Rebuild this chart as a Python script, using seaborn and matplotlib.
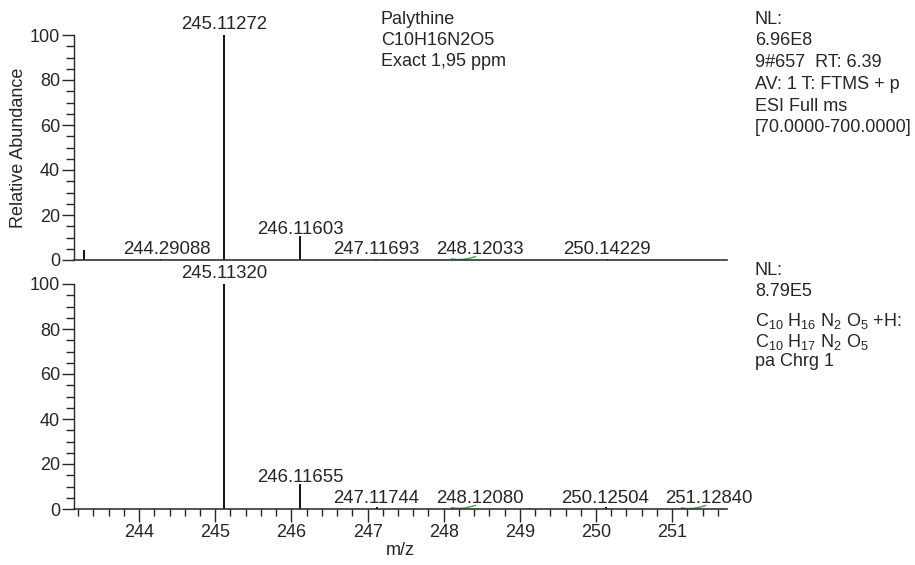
import numpy as np
import pandas as pd
import matplotlib
matplotlib.use("Agg")
import matplotlib.pyplot as plt
from matplotlib.ticker import MultipleLocator
import seaborn as sns

# Centroid peaks, measured spectrum (m/z, relative abundance)
top_mz = [243.28, 244.29088, 245.11272, 246.11603, 247.11693, 248.12033, 250.14229]
top_int = [4.5, 0.3, 100.0, 10.5, 0.6, 0.3, 0.3]
top_labels = ["", "244.29088", "245.11272", "246.11603", "247.11693", "248.12033", "250.14229"]

# Simulated isotope pattern for C10H17N2O5
bot_mz = [245.11320, 246.11655, 247.11744, 248.12080, 249.13, 250.12504, 251.12840]
bot_int = [100.0, 11.0, 0.8, 0.4, 0.6, 0.7, 0.3]
bot_labels = ["245.11320", "246.11655", "247.11744", "248.12080", "", "250.12504", "251.12840"]

# Low-level profile traces (green)
prof_top_mz = [248.10, 248.18, 248.26, 248.34, 248.42]
prof_top_int = [0.5, 0.2, 0.3, 0.8, 1.5]
prof_bot1_mz = [248.10, 248.18, 248.26, 248.34, 248.42]
prof_bot1_int = [0.6, 0.3, 0.4, 0.9, 1.6]
prof_bot2_mz = [251.12, 251.20, 251.28, 251.36, 251.44]
prof_bot2_int = [0.5, 0.2, 0.3, 0.8, 1.5]

top_info = ["NL:", "6.96E8", "9#657  RT: 6.39", "AV: 1 T: FTMS + p", "ESI Full ms", "[70.0000-700.0000]"]
header = ["Palythine", "C10H16N2O5", "Exact 1,95 ppm"]
bot_info = ["NL:", "8.79E5"]
bot_formula = [r"C$_{10}$ H$_{16}$ N$_{2}$ O$_{5}$ +H:", r"C$_{10}$ H$_{17}$ N$_{2}$ O$_{5}$", "pa Chrg 1"]

sns.set_style("ticks")
plt.rcParams["font.family"] = ["Liberation Sans", "DejaVu Sans"]
plt.rcParams["mathtext.fontset"] = "custom"
plt.rcParams["mathtext.rm"] = "Liberation Sans"
plt.rcParams["mathtext.it"] = "Liberation Sans"

W, H = 915, 565
fig = plt.figure(figsize=(W / 100, H / 100), dpi=100)

def px_axes(x0, y0, x1, y1):
    return fig.add_axes([x0 / W, 1 - y1 / H, (x1 - x0) / W, (y1 - y0) / H])

ax1 = px_axes(74, 35, 727, 260)
ax2 = px_axes(74, 284, 727, 509)

XMIN, XMAX = 243.145, 251.72
FS = 13
LFS = 13.4
label_dx = {"244.29088": 0.08, "248.12033": 0.35, "248.12080": 0.35, "251.12840": 0.35}

def draw_panel(ax, mz, inten, labels, profiles, show_x):
    df = pd.DataFrame({"mz": mz, "int": inten})
    ax.vlines(df["mz"], 0, df["int"], color="black", linewidth=1.3)
    for px, py in profiles:
        sns.lineplot(x=px, y=py, ax=ax, color="#3aa84a", linewidth=1.0, sort=False)
    for x, h, lab in zip(mz, inten, labels):
        if not lab:
            continue
        dy = 1.5 if h > 50 else -1.0
        ax.annotate(lab, (x + label_dx.get(lab, 0.0), max(h, 1.5)),
                    xytext=(0, dy), textcoords="offset points",
                    ha="center", va="bottom", fontsize=LFS, clip_on=False,
                    annotation_clip=False)
    ax.set_xlim(XMIN, XMAX)
    ax.set_ylim(0, 100)
    ax.yaxis.set_major_locator(MultipleLocator(20))
    ax.yaxis.set_minor_locator(MultipleLocator(5))
    ax.tick_params(axis="y", which="major", length=9, width=1.0, labelsize=FS, pad=1)
    ax.tick_params(axis="y", which="minor", length=6, width=1.0)
    for s in ("top", "right"):
        ax.spines[s].set_visible(False)
    ax.spines["left"].set_linewidth(1.0)
    ax.spines["bottom"].set_linewidth(1.2)
    ax.spines["bottom"].set_color("#333333")
    if show_x:
        ax.xaxis.set_major_locator(MultipleLocator(1))
        ax.xaxis.set_minor_locator(MultipleLocator(0.2))
        ax.tick_params(axis="x", which="major", length=9, width=1.0, labelsize=FS, pad=2)
        ax.tick_params(axis="x", which="minor", length=5, width=1.0)
    else:
        ax.tick_params(axis="x", which="both", bottom=False, labelbottom=False)
    ax.set_xlabel("")
    ax.set_ylabel("")

draw_panel(ax1, top_mz, top_int, top_labels, [(prof_top_mz, prof_top_int)], False)
draw_panel(ax2, bot_mz, bot_int, bot_labels,
           [(prof_bot1_mz, prof_bot1_int), (prof_bot2_mz, prof_bot2_int)], True)

ax1.set_ylabel("Relative Abundance", fontsize=FS, labelpad=2)
ax2.set_xlabel("m/z", fontsize=FS)
ax2.xaxis.set_label_coords((400 - 74) / (727 - 74), -0.145)

def put(x, y, s, **kw):
    fig.text(x / W, 1 - y / H, s, fontsize=FS, va="center", ha="left", **kw)

for i, s in enumerate(header):
    put(381, 19 + 21.5 * i, s)
for i, s in enumerate(top_info):
    put(755, 19 + 21.8 * i, s)
for i, s in enumerate(bot_info):
    put(755, 270 + 21.5 * i, s)
for i, s in enumerate(bot_formula):
    put(755, 321 + 20.5 * i, s)

fig.savefig("out.png", dpi=100)
